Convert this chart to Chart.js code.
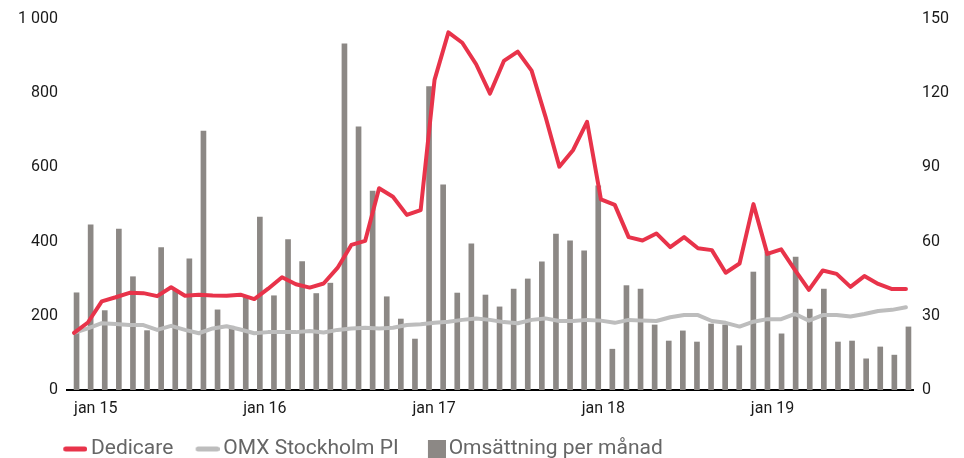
<!DOCTYPE html>
<html>
<head>
<meta charset="utf-8">
<script src="https://cdn.jsdelivr.net/npm/chart.js@4.4.1/dist/chart.umd.min.js"></script>
<style>
html,body{margin:0;padding:0;background:#ffffff;}
#wrap{width:964px;height:458px;position:relative;overflow:hidden;}
</style>
</head>
<body>
<div id="wrap"><canvas id="c" width="964" height="458"></canvas></div>
<script>
// ---- data ----
const months = [
  'jan 15','feb 15','mar 15','apr 15','maj 15','jun 15','jul 15','aug 15','sep 15','okt 15','nov 15','dec 15',
  'jan 16','feb 16','mar 16','apr 16','maj 16','jun 16','jul 16','aug 16','sep 16','okt 16','nov 16','dec 16',
  'jan 17','feb 17','mar 17','apr 17','maj 17','jun 17','jul 17','aug 17','sep 17','okt 17','nov 17','dec 17',
  'jan 18','feb 18','mar 18','apr 18','maj 18','jun 18','jul 18','aug 18','sep 18','okt 18','nov 18','dec 18',
  'jan 19','feb 19','mar 19','apr 19','maj 19','jun 19','jul 19','aug 19','sep 19','okt 19','nov 19','dec 19'
];
const xTickLabels = ['jan 15','jan 16','jan 17','jan 18','jan 19'];
const leftTicks = [0, 200, 400, 600, 800, 1000];
const rightTicks = [0, 30, 60, 90, 120, 150];

// Omsättning per månad (right axis)
const omsattning = [
  39.3, 66.8, 32.1, 65.1, 45.8, 24.0, 57.6, 40.2, 53.0, 104.7, 32.4, 25.8,
  37.4, 69.9, 38.1, 60.8, 51.9, 39.0, 43.2, 140.0, 106.4, 80.4, 37.7, 28.7,
  20.6, 122.7, 83.0, 39.2, 59.1, 38.4, 33.6, 40.8, 44.9, 51.8, 63.0, 60.3,
  56.3, 82.5, 16.5, 42.2, 40.8, 26.3, 19.8, 23.9, 19.4, 26.7, 26.3, 17.9,
  47.7, 55.8, 22.7, 53.7, 32.7, 40.8, 19.4, 19.8, 12.6, 17.4, 14.1, 25.5
];

// Dedicare (left axis), 61 monthly points
const dedicare = [
  154, 182, 239, 250, 262, 261, 253, 277, 254, 257,
  255, 254, 257, 245, 273, 304, 285, 276, 287, 329,
  391, 402, 544, 521, 472, 485, 836, 964, 936, 878,
  799, 887, 912, 861, 737, 602, 647, 723, 514, 499,
  412, 403, 422, 385, 412, 382, 377, 316, 341, 501,
  367, 379, 323, 270, 322, 313, 278, 307, 286, 272,
  272
];

// OMX Stockholm PI (left axis), 61 monthly points
const omx = [
  154, 166, 180, 178, 175, 175, 162, 173, 162, 153,
  166, 172, 163, 153, 156, 156, 156, 159, 155, 162,
  166, 168, 166, 168, 175, 177, 181, 184, 189, 193,
  189, 183, 180, 189, 193, 186, 186, 189, 187, 181,
  189, 187, 186, 196, 202, 202, 186, 181, 171, 184,
  191, 191, 205, 187, 202, 202, 198, 205, 213, 216,
  223
];

// ---- styles ----
const RED = '#e8334a';
const LGRAY = '#bdbdbd';
const BAR = '#8c8885';
const FONT = 'Roboto';

const LEG_FONT = 21;
const LEG_PAD = 8;
const LEG_BOX = 31.5;

function lineSymbol(color) {
  const w = LEG_BOX + 13, h = 6;
  const c = document.createElement('canvas');
  c.width = Math.round(w); c.height = h;
  const g = c.getContext('2d');
  g.strokeStyle = color; g.lineWidth = 5; g.lineCap = 'round';
  g.beginPath(); g.moveTo(c.width - 24 + 2.5, h / 2); g.lineTo(c.width - 2.5, h / 2); g.stroke();
  return c;
}
function squareSymbol(color) {
  const w = LEG_BOX + 15, h = 18;
  const c = document.createElement('canvas');
  c.width = Math.round(w); c.height = h;
  const g = c.getContext('2d');
  g.fillStyle = color;
  g.fillRect(c.width - 18, 0, 18, 18);
  return c;
}
const symbols = [lineSymbol(RED), lineSymbol(LGRAY), squareSymbol(BAR)];

const fmt = v => String(v).replace(/\B(?=(\d{3})+(?!\d))/g, ' ');

const legendMover = {
  id: 'legendMover',
  afterLayout(chart) {
    const lg = chart.legend;
    if (!lg) return;
    const h = lg.bottom - lg.top;
    lg.top = 449 - LEG_FONT / 2 - LEG_PAD;
    lg.bottom = lg.top + h;
    lg.left = 49 - LEG_PAD;
  }
};

new Chart(document.getElementById('c'), {
  data: {
    labels: months,
    datasets: [
      {
        type: 'line', label: 'Dedicare', order: 0,
        data: dedicare.map((v, i) => ({x: i, y: v})),
        xAxisID: 'x2', yAxisID: 'y',
        borderColor: RED, backgroundColor: RED, borderWidth: 4,
        pointRadius: 0, tension: 0, borderJoinStyle: 'round', borderCapStyle: 'round'
      },
      {
        type: 'line', label: 'OMX Stockholm PI', order: 1,
        data: omx.map((v, i) => ({x: i, y: v})),
        xAxisID: 'x2', yAxisID: 'y',
        borderColor: LGRAY, backgroundColor: LGRAY, borderWidth: 4,
        pointRadius: 0, tension: 0, borderJoinStyle: 'round', borderCapStyle: 'round'
      },
      {
        type: 'bar', label: 'Omsättning per månad', order: 2,
        data: omsattning,
        xAxisID: 'x', yAxisID: 'y2',
        backgroundColor: BAR, borderWidth: 0, barThickness: 5
      }
    ]
  },
  options: {
    responsive: false,
    animation: false,
    devicePixelRatio: 1,
    layout: { padding: { top: 19, left: 0, right: 0, bottom: 0 } },
    plugins: {
      tooltip: { enabled: false },
      legend: {
        position: 'bottom',
        align: 'start',
        labels: {
          usePointStyle: true,
          pointStyleWidth: LEG_BOX,
          padding: LEG_PAD,
          color: '#666666',
          font: { family: FONT, size: LEG_FONT },
          generateLabels(chart) {
            const items = Chart.defaults.plugins.legend.labels.generateLabels(chart);
            items.forEach(it => { it.pointStyle = symbols[it.datasetIndex]; });
            return items;
          }
        }
      }
    },
    scales: {
      x: {
        type: 'category',
        position: 'bottom',
        offset: true,
        grid: { display: false, drawTicks: false, offset: true },
        border: { display: true, color: '#000000', width: 2 },
        ticks: {
          autoSkip: false, maxRotation: 0, minRotation: 0,
          align: 'start', padding: 9,
          color: '#1a1a1a', font: { family: FONT, size: 16 },
          callback(val, idx) { return xTickLabels.includes(months[idx]) ? months[idx] : ''; }
        },
        afterFit(scale) { scale.height = 29; }
      },
      x2: {
        type: 'linear', display: false,
        min: -60 / 118, max: 60 + 60 / 118
      },
      y: {
        type: 'linear', position: 'left',
        min: 0, max: 1000,
        grid: { display: false, drawTicks: false },
        border: { display: false },
        afterBuildTicks(scale) { scale.ticks = leftTicks.map(v => ({value: v})); },
        ticks: {
          padding: 9, color: '#1a1a1a', font: { family: FONT, size: 16 },
          callback: v => fmt(v)
        },
        afterFit(scale) { scale.width = 67; }
      },
      y2: {
        type: 'linear', position: 'right',
        min: 0, max: 150,
        grid: { display: false, drawTicks: false },
        border: { display: false },
        afterBuildTicks(scale) { scale.ticks = rightTicks.map(v => ({value: v})); },
        ticks: {
          padding: 9, color: '#1a1a1a', font: { family: FONT, size: 16 },
          callback: v => String(v)
        },
        afterFit(scale) { scale.width = 51; }
      }
    }
  },
  plugins: [legendMover]
});
</script>
</body>
</html>
